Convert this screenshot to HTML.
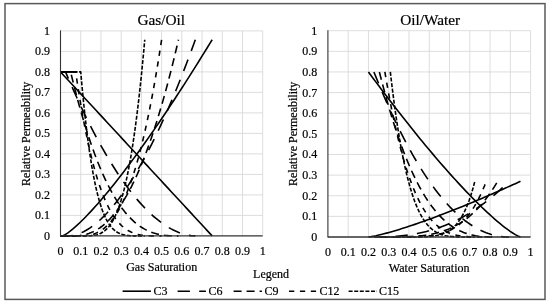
<!DOCTYPE html>
<html lang="en">
<head>
<meta charset="utf-8">
<title>Relative Permeability</title>
<style>
html,body{margin:0;padding:0;background:#fff;}
body{width:550px;height:304px;overflow:hidden;}
svg{display:block;}
</style>
</head>
<body>
<svg width="550" height="304" viewBox="0 0 550 304">
<rect x="0" y="0" width="550" height="304" fill="#fff"/>
<rect x="5.0" y="3.6" width="540.0" height="295.8" fill="none" stroke="#595959" stroke-width="1.5"/>
<g stroke="#d4d4d4" stroke-width="0.8" fill="none">
<line x1="80.72" y1="30.90" x2="80.72" y2="235.90"/>
<line x1="60.50" y1="215.40" x2="262.70" y2="215.40"/>
<line x1="100.94" y1="30.90" x2="100.94" y2="235.90"/>
<line x1="60.50" y1="194.90" x2="262.70" y2="194.90"/>
<line x1="121.16" y1="30.90" x2="121.16" y2="235.90"/>
<line x1="60.50" y1="174.40" x2="262.70" y2="174.40"/>
<line x1="141.38" y1="30.90" x2="141.38" y2="235.90"/>
<line x1="60.50" y1="153.90" x2="262.70" y2="153.90"/>
<line x1="161.60" y1="30.90" x2="161.60" y2="235.90"/>
<line x1="60.50" y1="133.40" x2="262.70" y2="133.40"/>
<line x1="181.82" y1="30.90" x2="181.82" y2="235.90"/>
<line x1="60.50" y1="112.90" x2="262.70" y2="112.90"/>
<line x1="202.04" y1="30.90" x2="202.04" y2="235.90"/>
<line x1="60.50" y1="92.40" x2="262.70" y2="92.40"/>
<line x1="222.26" y1="30.90" x2="222.26" y2="235.90"/>
<line x1="60.50" y1="71.90" x2="262.70" y2="71.90"/>
<line x1="242.48" y1="30.90" x2="242.48" y2="235.90"/>
<line x1="60.50" y1="51.40" x2="262.70" y2="51.40"/>
<line x1="262.70" y1="30.90" x2="262.70" y2="235.90"/>
<line x1="60.50" y1="30.90" x2="262.70" y2="30.90"/>
<line x1="348.17" y1="30.70" x2="348.17" y2="237.00"/>
<line x1="327.90" y1="216.37" x2="530.60" y2="216.37"/>
<line x1="368.44" y1="30.70" x2="368.44" y2="237.00"/>
<line x1="327.90" y1="195.74" x2="530.60" y2="195.74"/>
<line x1="388.71" y1="30.70" x2="388.71" y2="237.00"/>
<line x1="327.90" y1="175.11" x2="530.60" y2="175.11"/>
<line x1="408.98" y1="30.70" x2="408.98" y2="237.00"/>
<line x1="327.90" y1="154.48" x2="530.60" y2="154.48"/>
<line x1="429.25" y1="30.70" x2="429.25" y2="237.00"/>
<line x1="327.90" y1="133.85" x2="530.60" y2="133.85"/>
<line x1="449.52" y1="30.70" x2="449.52" y2="237.00"/>
<line x1="327.90" y1="113.22" x2="530.60" y2="113.22"/>
<line x1="469.79" y1="30.70" x2="469.79" y2="237.00"/>
<line x1="327.90" y1="92.59" x2="530.60" y2="92.59"/>
<line x1="490.06" y1="30.70" x2="490.06" y2="237.00"/>
<line x1="327.90" y1="71.96" x2="530.60" y2="71.96"/>
<line x1="510.33" y1="30.70" x2="510.33" y2="237.00"/>
<line x1="327.90" y1="51.33" x2="530.60" y2="51.33"/>
<line x1="530.60" y1="30.70" x2="530.60" y2="237.00"/>
<line x1="327.90" y1="30.70" x2="530.60" y2="30.70"/>
</g>
<g fill="none" stroke="#000" stroke-width="1.6" stroke-linejoin="round">
<path d="M60.50 71.90 L63.07 74.68 L65.64 77.46 L68.21 80.24 L70.78 83.02 L73.35 85.80 L75.92 88.58 L78.49 91.36 L81.06 94.14 L83.63 96.92 L86.20 99.70 L88.77 102.48 L91.34 105.26 L93.91 108.04 L96.48 110.82 L99.06 113.59 L101.63 116.37 L104.20 119.15 L106.77 121.93 L109.34 124.71 L111.91 127.49 L114.48 130.27 L117.05 133.05 L119.62 135.83 L122.19 138.61 L124.76 141.39 L127.33 144.17 L129.90 146.95 L132.47 149.73 L135.04 152.51 L137.61 155.29 L140.18 158.07 L142.75 160.85 L145.32 163.63 L147.89 166.41 L150.46 169.19 L153.03 171.97 L155.60 174.75 L158.17 177.53 L160.74 180.31 L163.31 183.09 L165.88 185.87 L168.45 188.65 L171.02 191.43 L173.59 194.21 L176.17 196.98 L178.74 199.76 L181.31 202.54 L183.88 205.32 L186.45 208.10 L189.02 210.88 L191.59 213.66 L194.16 216.44 L196.73 219.22 L199.30 222.00 L201.87 224.78 L204.44 227.56 L207.01 230.34 L209.58 233.12 L212.15 235.90"/>
<path d="M60.50 235.90 L62.52 235.90 L65.06 234.70 L67.59 233.05 L70.13 231.16 L72.67 229.11 L75.20 226.93 L77.74 224.63 L80.27 222.24 L82.81 219.76 L85.35 217.20 L87.88 214.56 L90.42 211.87 L92.95 209.10 L95.49 206.28 L98.03 203.41 L100.56 200.48 L103.10 197.51 L105.64 194.48 L108.17 191.42 L110.71 188.31 L113.24 185.16 L115.78 181.96 L118.32 178.74 L120.85 175.47 L123.39 172.17 L125.92 168.83 L128.46 165.46 L131.00 162.06 L133.53 158.62 L136.07 155.16 L138.60 151.66 L141.14 148.14 L143.68 144.59 L146.21 141.01 L148.75 137.40 L151.28 133.76 L153.82 130.10 L156.36 126.42 L158.89 122.70 L161.43 118.97 L163.96 115.21 L166.50 111.43 L169.04 107.62 L171.57 103.79 L174.11 99.94 L176.65 96.06 L179.18 92.17 L181.72 88.25 L184.25 84.32 L186.79 80.36 L189.33 76.38 L191.86 72.38 L194.40 68.37 L196.93 64.33 L199.47 60.27 L202.01 56.20 L204.54 52.10 L207.08 47.99 L209.61 43.86 L212.15 39.72"/>
<path d="M60.50 71.90 L65.56 71.90 L67.75 77.07 L69.95 82.17 L72.15 87.19 L74.35 92.13 L76.55 96.99 L78.75 101.77 L80.95 106.48 L83.15 111.11 L85.35 115.66 L87.55 120.13 L89.74 124.52 L91.94 128.83 L94.14 133.06 L96.34 137.21 L98.54 141.28 L100.74 145.27 L102.94 149.19 L105.14 153.02 L107.34 156.77 L109.54 160.44 L111.74 164.02 L113.93 167.53 L116.13 170.95 L118.33 174.29 L120.53 177.55 L122.73 180.73 L124.93 183.82 L127.13 186.83 L129.33 189.76 L131.53 192.60 L133.73 195.36 L135.93 198.03 L138.12 200.62 L140.32 203.12 L142.52 205.53 L144.72 207.86 L146.92 210.10 L149.12 212.26 L151.32 214.33 L153.52 216.30 L155.72 218.19 L157.92 219.99 L160.12 221.70 L162.31 223.32 L164.51 224.85 L166.71 226.28 L168.91 227.62 L171.11 228.87 L173.31 230.02 L175.51 231.07 L177.71 232.03 L179.91 232.89 L182.11 233.64 L184.31 234.30 L186.50 234.84 L188.70 235.28 L190.90 235.61 L193.10 235.82 L195.30 235.90" stroke-dasharray="12.3 9.3"/>
<path d="M60.50 235.90 L68.59 235.90 L70.74 235.77 L72.88 235.46 L75.03 234.98 L77.18 234.36 L79.33 233.59 L81.47 232.70 L83.62 231.67 L85.77 230.52 L87.92 229.25 L90.06 227.86 L92.21 226.36 L94.36 224.74 L96.51 223.01 L98.66 221.17 L100.80 219.22 L102.95 217.17 L105.10 215.01 L107.25 212.75 L109.39 210.38 L111.54 207.91 L113.69 205.34 L115.84 202.67 L117.98 199.90 L120.13 197.04 L122.28 194.08 L124.43 191.02 L126.58 187.86 L128.72 184.61 L130.87 181.27 L133.02 177.83 L135.17 174.30 L137.31 170.68 L139.46 166.96 L141.61 163.16 L143.76 159.26 L145.90 155.27 L148.05 151.20 L150.20 147.03 L152.35 142.78 L154.49 138.44 L156.64 134.01 L158.79 129.49 L160.94 124.89 L163.09 120.20 L165.23 115.42 L167.38 110.56 L169.53 105.61 L171.68 100.58 L173.82 95.46 L175.97 90.26 L178.12 84.98 L180.27 79.61 L182.41 74.16 L184.56 68.62 L186.71 63.00 L188.86 57.30 L191.01 51.52 L193.15 45.66 L195.30 39.72" stroke-dasharray="12.3 9.3"/>
<path d="M60.50 71.90 L70.61 71.90 L72.44 79.43 L74.27 86.74 L76.09 93.82 L77.92 100.69 L79.75 107.35 L81.58 113.79 L83.40 120.02 L85.23 126.05 L87.06 131.87 L88.89 137.49 L90.72 142.91 L92.54 148.15 L94.37 153.18 L96.20 158.04 L98.03 162.70 L99.86 167.19 L101.68 171.49 L103.51 175.62 L105.34 179.58 L107.17 183.37 L108.99 186.99 L110.82 190.45 L112.65 193.75 L114.48 196.89 L116.31 199.88 L118.13 202.72 L119.96 205.41 L121.79 207.96 L123.62 210.37 L125.44 212.64 L127.27 214.78 L129.10 216.79 L130.93 218.67 L132.76 220.44 L134.58 222.08 L136.41 223.60 L138.24 225.02 L140.07 226.33 L141.89 227.53 L143.72 228.63 L145.55 229.63 L147.38 230.55 L149.21 231.37 L151.03 232.10 L152.86 232.76 L154.69 233.34 L156.52 233.85 L158.35 234.28 L160.17 234.66 L162.00 234.97 L163.83 235.23 L165.66 235.43 L167.48 235.59 L169.31 235.72 L171.14 235.80 L172.97 235.85 L174.80 235.89 L176.62 235.90 L178.45 235.90" stroke-dasharray="8 5"/>
<path d="M60.50 235.90 L72.63 235.90 L74.43 235.89 L76.22 235.83 L78.01 235.72 L79.81 235.55 L81.60 235.31 L83.39 234.99 L85.19 234.59 L86.98 234.11 L88.77 233.54 L90.57 232.87 L92.36 232.11 L94.15 231.25 L95.95 230.29 L97.74 229.22 L99.54 228.05 L101.33 226.76 L103.12 225.36 L104.92 223.85 L106.71 222.22 L108.50 220.46 L110.30 218.59 L112.09 216.59 L113.88 214.46 L115.68 212.20 L117.47 209.82 L119.26 207.30 L121.06 204.65 L122.85 201.86 L124.64 198.93 L126.44 195.87 L128.23 192.66 L130.03 189.31 L131.82 185.82 L133.61 182.18 L135.41 178.39 L137.20 174.46 L138.99 170.37 L140.79 166.13 L142.58 161.74 L144.37 157.19 L146.17 152.49 L147.96 147.63 L149.75 142.61 L151.55 137.44 L153.34 132.10 L155.14 126.59 L156.93 120.93 L158.72 115.10 L160.52 109.10 L162.31 102.93 L164.10 96.60 L165.90 90.10 L167.69 83.42 L169.48 76.57 L171.28 69.55 L173.07 62.36 L174.86 54.99 L176.66 47.44 L178.45 39.72" stroke-dasharray="8 5"/>
<path d="M60.50 71.90 L75.67 71.90 L77.12 81.75 L78.58 91.17 L80.03 100.17 L81.49 108.75 L82.95 116.93 L84.40 124.73 L85.86 132.14 L87.32 139.20 L88.77 145.89 L90.23 152.25 L91.69 158.27 L93.14 163.98 L94.60 169.37 L96.06 174.47 L97.51 179.27 L98.97 183.80 L100.43 188.06 L101.88 192.06 L103.34 195.82 L104.80 199.33 L106.25 202.62 L107.71 205.68 L109.17 208.54 L110.62 211.20 L112.08 213.66 L113.54 215.94 L114.99 218.05 L116.45 219.99 L117.91 221.77 L119.36 223.41 L120.82 224.90 L122.27 226.26 L123.73 227.49 L125.19 228.60 L126.64 229.61 L128.10 230.51 L129.56 231.31 L131.01 232.02 L132.47 232.65 L133.93 233.20 L135.38 233.68 L136.84 234.10 L138.30 234.45 L139.75 234.75 L141.21 235.01 L142.67 235.22 L144.12 235.39 L145.58 235.53 L147.04 235.64 L148.49 235.72 L149.95 235.78 L151.41 235.83 L152.86 235.86 L154.32 235.88 L155.78 235.89 L157.23 235.90 L158.69 235.90 L160.15 235.90 L161.60 235.90" stroke-dasharray="5.3 5.6"/>
<path d="M60.50 235.90 L76.68 235.90 L78.12 235.90 L79.55 235.89 L80.99 235.86 L82.43 235.82 L83.87 235.74 L85.31 235.63 L86.75 235.48 L88.19 235.28 L89.63 235.03 L91.07 234.72 L92.51 234.34 L93.95 233.90 L95.39 233.38 L96.83 232.78 L98.27 232.10 L99.71 231.32 L101.15 230.45 L102.59 229.48 L104.03 228.39 L105.46 227.20 L106.90 225.89 L108.34 224.45 L109.78 222.89 L111.22 221.19 L112.66 219.35 L114.10 217.38 L115.54 215.25 L116.98 212.97 L118.42 210.53 L119.86 207.93 L121.30 205.16 L122.74 202.21 L124.18 199.09 L125.62 195.79 L127.06 192.30 L128.50 188.61 L129.93 184.73 L131.37 180.64 L132.81 176.35 L134.25 171.85 L135.69 167.13 L137.13 162.18 L138.57 157.01 L140.01 151.61 L141.45 145.98 L142.89 140.10 L144.33 133.98 L145.77 127.61 L147.21 120.99 L148.65 114.10 L150.09 106.95 L151.53 99.54 L152.97 91.85 L154.40 83.88 L155.84 75.63 L157.28 67.09 L158.72 58.26 L160.16 49.14 L161.60 39.72" stroke-dasharray="5.3 5.6"/>
<path d="M60.50 71.90 L80.72 71.90 L81.81 84.04 L82.89 95.47 L83.98 106.23 L85.06 116.32 L86.15 125.80 L87.23 134.68 L88.32 143.00 L89.40 150.77 L90.49 158.03 L91.57 164.80 L92.66 171.10 L93.74 176.95 L94.83 182.39 L95.91 187.43 L97.00 192.09 L98.08 196.40 L99.17 200.37 L100.26 204.02 L101.34 207.37 L102.43 210.44 L103.51 213.25 L104.60 215.81 L105.68 218.14 L106.77 220.26 L107.85 222.17 L108.94 223.90 L110.02 225.45 L111.11 226.84 L112.19 228.08 L113.28 229.19 L114.36 230.17 L115.45 231.03 L116.53 231.79 L117.62 232.46 L118.71 233.04 L119.79 233.54 L120.88 233.96 L121.96 234.33 L123.05 234.64 L124.13 234.90 L125.22 235.12 L126.30 235.29 L127.39 235.44 L128.47 235.55 L129.56 235.65 L130.64 235.72 L131.73 235.77 L132.81 235.81 L133.90 235.84 L134.98 235.87 L136.07 235.88 L137.16 235.89 L138.24 235.89 L139.33 235.90 L140.41 235.90 L141.50 235.90 L142.58 235.90 L143.67 235.90 L144.75 235.90" stroke-dasharray="4 1.6" stroke-dashoffset="-1.8"/>
<path d="M60.50 235.90 L80.72 235.90 L81.81 235.90 L82.89 235.90 L83.98 235.90 L85.06 235.89 L86.15 235.88 L87.23 235.86 L88.32 235.83 L89.40 235.78 L90.49 235.71 L91.57 235.62 L92.66 235.51 L93.74 235.36 L94.83 235.17 L95.91 234.94 L97.00 234.66 L98.08 234.33 L99.17 233.94 L100.26 233.47 L101.34 232.94 L102.43 232.32 L103.51 231.61 L104.60 230.80 L105.68 229.89 L106.77 228.86 L107.85 227.72 L108.94 226.44 L110.02 225.02 L111.11 223.45 L112.19 221.73 L113.28 219.84 L114.36 217.76 L115.45 215.50 L116.53 213.04 L117.62 210.37 L118.71 207.48 L119.79 204.36 L120.88 201.00 L121.96 197.38 L123.05 193.49 L124.13 189.33 L125.22 184.87 L126.30 180.11 L127.39 175.04 L128.47 169.63 L129.56 163.89 L130.64 157.79 L131.73 151.32 L132.81 144.47 L133.90 137.22 L134.98 129.56 L136.07 121.47 L137.16 112.95 L138.24 103.97 L139.33 94.53 L140.41 84.59 L141.50 74.16 L142.58 63.22 L143.67 51.74 L144.75 39.72" stroke-dasharray="4 1.6"/>
<path d="M368.44 71.96 L371.02 75.45 L373.59 78.92 L376.17 82.38 L378.75 85.83 L381.32 89.25 L383.90 92.67 L386.48 96.06 L389.05 99.44 L391.63 102.80 L394.21 106.15 L396.78 109.48 L399.36 112.79 L401.94 116.09 L404.51 119.36 L407.09 122.62 L409.67 125.86 L412.24 129.08 L414.82 132.29 L417.40 135.47 L419.97 138.63 L422.55 141.77 L425.13 144.90 L427.70 148.00 L430.28 151.08 L432.86 154.13 L435.43 157.17 L438.01 160.18 L440.59 163.17 L443.16 166.14 L445.74 169.08 L448.32 171.99 L450.89 174.88 L453.47 177.74 L456.05 180.58 L458.62 183.38 L461.20 186.16 L463.78 188.91 L466.35 191.63 L468.93 194.31 L471.51 196.96 L474.08 199.58 L476.66 202.16 L479.24 204.70 L481.81 207.21 L484.39 209.67 L486.97 212.09 L489.54 214.46 L492.12 216.78 L494.70 219.05 L497.27 221.27 L499.85 223.42 L502.43 225.51 L505.00 227.52 L507.58 229.45 L510.16 231.29 L512.73 233.02 L515.31 234.60 L517.89 235.99 L520.47 237.00"/>
<path d="M368.44 237.00 L371.02 236.66 L373.59 236.19 L376.17 235.66 L378.75 235.07 L381.32 234.45 L383.90 233.80 L386.48 233.12 L389.05 232.42 L391.63 231.69 L394.21 230.94 L396.78 230.18 L399.36 229.39 L401.94 228.59 L404.51 227.78 L407.09 226.94 L409.67 226.10 L412.24 225.24 L414.82 224.37 L417.40 223.49 L419.97 222.59 L422.55 221.69 L425.13 220.77 L427.70 219.84 L430.28 218.90 L432.86 217.96 L435.43 217.00 L438.01 216.03 L440.59 215.06 L443.16 214.08 L445.74 213.08 L448.32 212.08 L450.89 211.07 L453.47 210.06 L456.05 209.03 L458.62 208.00 L461.20 206.96 L463.78 205.92 L466.35 204.86 L468.93 203.80 L471.51 202.73 L474.08 201.66 L476.66 200.58 L479.24 199.49 L481.81 198.40 L484.39 197.30 L486.97 196.19 L489.54 195.08 L492.12 193.96 L494.70 192.84 L497.27 191.71 L499.85 190.57 L502.43 189.43 L505.00 188.29 L507.58 187.14 L510.16 185.98 L512.73 184.82 L515.31 183.65 L517.89 182.48 L520.47 181.30"/>
<path d="M373.91 71.96 L376.20 77.67 L378.49 83.28 L380.78 88.78 L383.08 94.18 L385.37 99.48 L387.66 104.67 L389.95 109.77 L392.24 114.76 L394.53 119.64 L396.82 124.43 L399.11 129.11 L401.40 133.69 L403.69 138.16 L405.98 142.54 L408.27 146.81 L410.56 150.98 L412.85 155.05 L415.15 159.02 L417.44 162.89 L419.73 166.66 L422.02 170.32 L424.31 173.89 L426.60 177.35 L428.89 180.71 L431.18 183.98 L433.47 187.14 L435.76 190.20 L438.05 193.16 L440.34 196.03 L442.63 198.79 L444.92 201.45 L447.21 204.02 L449.51 206.49 L451.80 208.86 L454.09 211.13 L456.38 213.30 L458.67 215.37 L460.96 217.35 L463.25 219.23 L465.54 221.01 L467.83 222.69 L470.12 224.28 L472.41 225.78 L474.70 227.17 L476.99 228.48 L479.28 229.68 L481.57 230.79 L483.87 231.81 L486.16 232.74 L488.45 233.57 L490.74 234.31 L493.03 234.96 L495.32 235.51 L497.61 235.98 L499.90 236.35 L502.19 236.64 L504.48 236.85 L506.77 236.96 L509.06 237.00" stroke-dasharray="12.3 9.3"/>
<path d="M373.91 237.00 L376.20 237.00 L378.49 236.99 L380.78 236.96 L383.08 236.92 L385.37 236.86 L387.66 236.79 L389.95 236.69 L392.24 236.57 L394.53 236.43 L396.82 236.27 L399.11 236.08 L401.40 235.86 L403.69 235.61 L405.98 235.33 L408.27 235.03 L410.56 234.69 L412.85 234.33 L415.15 233.92 L417.44 233.49 L419.73 233.02 L422.02 232.52 L424.31 231.98 L426.60 231.41 L428.89 230.80 L431.18 230.15 L433.47 229.46 L435.76 228.73 L438.05 227.96 L440.34 227.15 L442.63 226.31 L444.92 225.41 L447.21 224.48 L449.51 223.51 L451.80 222.49 L454.09 221.42 L456.38 220.31 L458.67 219.16 L460.96 217.96 L463.25 216.71 L465.54 215.42 L467.83 214.08 L470.12 212.69 L472.41 211.26 L474.70 209.77 L476.99 208.24 L479.28 206.65 L481.57 205.02 L483.87 203.33 L486.16 201.60 L488.45 199.81 L490.74 197.96 L493.03 196.07 L495.32 194.12 L497.61 192.12 L499.90 190.07 L502.19 187.96 L504.48 185.79 L506.77 183.57 L509.06 181.30" stroke-dasharray="12.3 9.3"/>
<path d="M379.39 71.96 L381.39 79.88 L383.40 87.54 L385.40 94.95 L387.40 102.12 L389.41 109.06 L391.41 115.75 L393.42 122.21 L395.42 128.44 L397.43 134.45 L399.43 140.24 L401.44 145.81 L403.44 151.16 L405.45 156.31 L407.45 161.25 L409.46 165.99 L411.46 170.53 L413.47 174.88 L415.47 179.04 L417.47 183.01 L419.48 186.80 L421.48 190.41 L423.49 193.85 L425.49 197.12 L427.50 200.22 L429.50 203.16 L431.51 205.95 L433.51 208.58 L435.52 211.05 L437.52 213.39 L439.53 215.58 L441.53 217.64 L443.54 219.56 L445.54 221.35 L447.54 223.02 L449.55 224.57 L451.55 226.00 L453.56 227.32 L455.56 228.53 L457.57 229.64 L459.57 230.65 L461.58 231.56 L463.58 232.39 L465.59 233.13 L467.59 233.78 L469.60 234.36 L471.60 234.87 L473.61 235.31 L475.61 235.68 L477.61 236.00 L479.62 236.26 L481.62 236.47 L483.63 236.64 L485.63 236.77 L487.64 236.86 L489.64 236.93 L491.65 236.97 L493.65 236.99 L495.66 237.00 L497.66 237.00" stroke-dasharray="8 5"/>
<path d="M379.39 237.00 L381.39 237.00 L383.40 237.00 L385.40 237.00 L387.40 237.00 L389.41 236.99 L391.41 236.99 L393.42 236.98 L395.42 236.96 L397.43 236.94 L399.43 236.91 L401.44 236.87 L403.44 236.83 L405.45 236.77 L407.45 236.70 L409.46 236.61 L411.46 236.51 L413.47 236.39 L415.47 236.25 L417.47 236.09 L419.48 235.90 L421.48 235.69 L423.49 235.45 L425.49 235.18 L427.50 234.87 L429.50 234.53 L431.51 234.16 L433.51 233.74 L435.52 233.28 L437.52 232.77 L439.53 232.22 L441.53 231.61 L443.54 230.96 L445.54 230.24 L447.54 229.47 L449.55 228.63 L451.55 227.73 L453.56 226.76 L455.56 225.72 L457.57 224.61 L459.57 223.41 L461.58 222.14 L463.58 220.78 L465.59 219.33 L467.59 217.80 L469.60 216.16 L471.60 214.43 L473.61 212.60 L475.61 210.66 L477.61 208.62 L479.62 206.46 L481.62 204.18 L483.63 201.78 L485.63 199.26 L487.64 196.61 L489.64 193.83 L491.65 190.91 L493.65 187.85 L495.66 184.65 L497.66 181.30" stroke-dasharray="8 5"/>
<path d="M384.86 71.96 L386.58 82.05 L388.30 91.68 L390.01 100.87 L391.73 109.63 L393.45 117.96 L395.17 125.90 L396.89 133.44 L398.61 140.60 L400.33 147.39 L402.05 153.83 L403.76 159.92 L405.48 165.68 L407.20 171.12 L408.92 176.26 L410.64 181.09 L412.36 185.64 L414.08 189.91 L415.79 193.92 L417.51 197.67 L419.23 201.18 L420.95 204.45 L422.67 207.50 L424.39 210.34 L426.11 212.97 L427.83 215.41 L429.54 217.66 L431.26 219.74 L432.98 221.64 L434.70 223.39 L436.42 224.99 L438.14 226.45 L439.86 227.78 L441.57 228.98 L443.29 230.06 L445.01 231.03 L446.73 231.90 L448.45 232.67 L450.17 233.35 L451.89 233.95 L453.60 234.48 L455.32 234.93 L457.04 235.33 L458.76 235.66 L460.48 235.95 L462.20 236.18 L463.92 236.38 L465.64 236.54 L467.35 236.66 L469.07 236.76 L470.79 236.84 L472.51 236.90 L474.23 236.94 L475.95 236.96 L477.67 236.98 L479.38 236.99 L481.10 237.00 L482.82 237.00 L484.54 237.00 L486.26 237.00" stroke-dasharray="5.3 5.6"/>
<path d="M384.86 237.00 L386.58 237.00 L388.30 237.00 L390.01 237.00 L391.73 237.00 L393.45 237.00 L395.17 237.00 L396.89 237.00 L398.61 237.00 L400.33 236.99 L402.05 236.99 L403.76 236.98 L405.48 236.97 L407.20 236.96 L408.92 236.94 L410.64 236.92 L412.36 236.89 L414.08 236.86 L415.79 236.81 L417.51 236.76 L419.23 236.69 L420.95 236.61 L422.67 236.51 L424.39 236.39 L426.11 236.26 L427.83 236.10 L429.54 235.91 L431.26 235.69 L432.98 235.44 L434.70 235.16 L436.42 234.83 L438.14 234.46 L439.86 234.05 L441.57 233.58 L443.29 233.05 L445.01 232.46 L446.73 231.80 L448.45 231.07 L450.17 230.26 L451.89 229.36 L453.60 228.38 L455.32 227.29 L457.04 226.10 L458.76 224.80 L460.48 223.37 L462.20 221.82 L463.92 220.13 L465.64 218.30 L467.35 216.31 L469.07 214.16 L470.79 211.83 L472.51 209.32 L474.23 206.62 L475.95 203.71 L477.67 200.59 L479.38 197.23 L481.10 193.64 L482.82 189.80 L484.54 185.69 L486.26 181.30" stroke-dasharray="5.3 5.6"/>
<path d="M390.33 71.96 L391.76 84.18 L393.20 95.68 L394.63 106.50 L396.06 116.67 L397.49 126.20 L398.93 135.14 L400.36 143.51 L401.79 151.33 L403.23 158.64 L404.66 165.45 L406.09 171.79 L407.52 177.68 L408.96 183.15 L410.39 188.22 L411.82 192.91 L413.25 197.25 L414.69 201.24 L416.12 204.92 L417.55 208.29 L418.98 211.38 L420.42 214.21 L421.85 216.79 L423.28 219.13 L424.72 221.26 L426.15 223.18 L427.58 224.92 L429.01 226.48 L430.45 227.88 L431.88 229.13 L433.31 230.25 L434.74 231.23 L436.18 232.10 L437.61 232.87 L439.04 233.54 L440.47 234.12 L441.91 234.62 L443.34 235.05 L444.77 235.42 L446.20 235.73 L447.64 235.99 L449.07 236.21 L450.50 236.39 L451.94 236.54 L453.37 236.65 L454.80 236.75 L456.23 236.82 L457.67 236.87 L459.10 236.91 L460.53 236.94 L461.96 236.97 L463.40 236.98 L464.83 236.99 L466.26 236.99 L467.69 237.00 L469.13 237.00 L470.56 237.00 L471.99 237.00 L473.42 237.00 L474.86 237.00" stroke-dasharray="4 1.6"/>
<path d="M390.33 237.00 L391.76 237.00 L393.20 237.00 L394.63 237.00 L396.06 237.00 L397.49 237.00 L398.93 237.00 L400.36 237.00 L401.79 237.00 L403.23 237.00 L404.66 237.00 L406.09 237.00 L407.52 237.00 L408.96 236.99 L410.39 236.99 L411.82 236.98 L413.25 236.98 L414.69 236.97 L416.12 236.96 L417.55 236.94 L418.98 236.92 L420.42 236.89 L421.85 236.85 L423.28 236.80 L424.72 236.75 L426.15 236.68 L427.58 236.59 L429.01 236.49 L430.45 236.36 L431.88 236.21 L433.31 236.04 L434.74 235.83 L436.18 235.58 L437.61 235.29 L439.04 234.96 L440.47 234.57 L441.91 234.13 L443.34 233.61 L444.77 233.02 L446.20 232.35 L447.64 231.59 L449.07 230.73 L450.50 229.75 L451.94 228.65 L453.37 227.42 L454.80 226.03 L456.23 224.49 L457.67 222.77 L459.10 220.85 L460.53 218.72 L461.96 216.37 L463.40 213.76 L464.83 210.89 L466.26 207.73 L467.69 204.26 L469.13 200.45 L470.56 196.27 L471.99 191.71 L473.42 186.73 L474.86 181.30" stroke-dasharray="4 1.6"/>
<line x1="60.50" y1="71.90" x2="77.10" y2="71.90"/>
</g>
<g stroke="#333" stroke-width="1.3" fill="none">
<line x1="60.50" y1="30.40" x2="60.50" y2="236.50" stroke-width="1.1"/>
<line x1="60.50" y1="235.90" x2="262.70" y2="235.90"/>
<line x1="327.90" y1="30.20" x2="327.90" y2="237.60" stroke-width="1.1"/>
<line x1="327.90" y1="237.00" x2="530.60" y2="237.00"/>
</g>
<g font-family="'Liberation Serif', 'Times New Roman', serif" font-size="12px" fill="#000" stroke="#000" stroke-width="0.2">
<text x="60.50" y="254.60" text-anchor="middle">0</text>
<text x="49.90" y="239.90" text-anchor="end">0</text>
<text x="80.72" y="254.60" text-anchor="middle">0.1</text>
<text x="49.90" y="219.40" text-anchor="end">0.1</text>
<text x="100.94" y="254.60" text-anchor="middle">0.2</text>
<text x="49.90" y="198.90" text-anchor="end">0.2</text>
<text x="121.16" y="254.60" text-anchor="middle">0.3</text>
<text x="49.90" y="178.40" text-anchor="end">0.3</text>
<text x="141.38" y="254.60" text-anchor="middle">0.4</text>
<text x="49.90" y="157.90" text-anchor="end">0.4</text>
<text x="161.60" y="254.60" text-anchor="middle">0.5</text>
<text x="49.90" y="137.40" text-anchor="end">0.5</text>
<text x="181.82" y="254.60" text-anchor="middle">0.6</text>
<text x="49.90" y="116.90" text-anchor="end">0.6</text>
<text x="202.04" y="254.60" text-anchor="middle">0.7</text>
<text x="49.90" y="96.40" text-anchor="end">0.7</text>
<text x="222.26" y="254.60" text-anchor="middle">0.8</text>
<text x="49.90" y="75.90" text-anchor="end">0.8</text>
<text x="242.48" y="254.60" text-anchor="middle">0.9</text>
<text x="49.90" y="55.40" text-anchor="end">0.9</text>
<text x="262.70" y="254.60" text-anchor="middle">1</text>
<text x="49.90" y="34.90" text-anchor="end">1</text>
<text x="327.90" y="255.70" text-anchor="middle">0</text>
<text x="317.30" y="241.00" text-anchor="end">0</text>
<text x="348.17" y="255.70" text-anchor="middle">0.1</text>
<text x="317.30" y="220.37" text-anchor="end">0.1</text>
<text x="368.44" y="255.70" text-anchor="middle">0.2</text>
<text x="317.30" y="199.74" text-anchor="end">0.2</text>
<text x="388.71" y="255.70" text-anchor="middle">0.3</text>
<text x="317.30" y="179.11" text-anchor="end">0.3</text>
<text x="408.98" y="255.70" text-anchor="middle">0.4</text>
<text x="317.30" y="158.48" text-anchor="end">0.4</text>
<text x="429.25" y="255.70" text-anchor="middle">0.5</text>
<text x="317.30" y="137.85" text-anchor="end">0.5</text>
<text x="449.52" y="255.70" text-anchor="middle">0.6</text>
<text x="317.30" y="117.22" text-anchor="end">0.6</text>
<text x="469.79" y="255.70" text-anchor="middle">0.7</text>
<text x="317.30" y="96.59" text-anchor="end">0.7</text>
<text x="490.06" y="255.70" text-anchor="middle">0.8</text>
<text x="317.30" y="75.96" text-anchor="end">0.8</text>
<text x="510.33" y="255.70" text-anchor="middle">0.9</text>
<text x="317.30" y="55.33" text-anchor="end">0.9</text>
<text x="530.60" y="255.70" text-anchor="middle">1</text>
<text x="317.30" y="34.70" text-anchor="end">1</text>
<text x="161.3" y="25" text-anchor="middle" font-size="15.3px">Gas/Oil</text>
<text x="430.1" y="25" text-anchor="middle" font-size="15.3px">Oil/Water</text>
<text x="161.7" y="271" text-anchor="middle">Gas Saturation</text>
<text x="429.2" y="271.5" text-anchor="middle">Water Saturation</text>
<text transform="translate(29.7 133.8) rotate(-90)" text-anchor="middle">Relative Permeability</text>
<text transform="translate(297.0 133.8) rotate(-90)" text-anchor="middle">Relative Permeability</text>
<text x="271.1" y="278.2" text-anchor="middle">Legend</text>
<text x="153.4" y="294.9">C3</text>
<text x="208.4" y="294.9">C6</text>
<text x="264.4" y="294.9">C9</text>
<text x="319.4" y="294.9">C12</text>
<text x="379.0" y="294.9">C15</text>
</g>
<g fill="none" stroke="#000" stroke-width="1.6">
<line x1="122.6" y1="291.2" x2="150.9" y2="291.2"/>
<line x1="177.6" y1="291.2" x2="205.9" y2="291.2" stroke-dasharray="12.3 9.3"/>
<line x1="233.6" y1="291.2" x2="261.9" y2="291.2" stroke-dasharray="8 5"/>
<line x1="289.0" y1="291.2" x2="317.3" y2="291.2" stroke-dasharray="5.3 5.6"/>
<line x1="348.6" y1="291.2" x2="376.9" y2="291.2" stroke-dasharray="4 1.6"/>
</g>
</svg>
</body>
</html>
